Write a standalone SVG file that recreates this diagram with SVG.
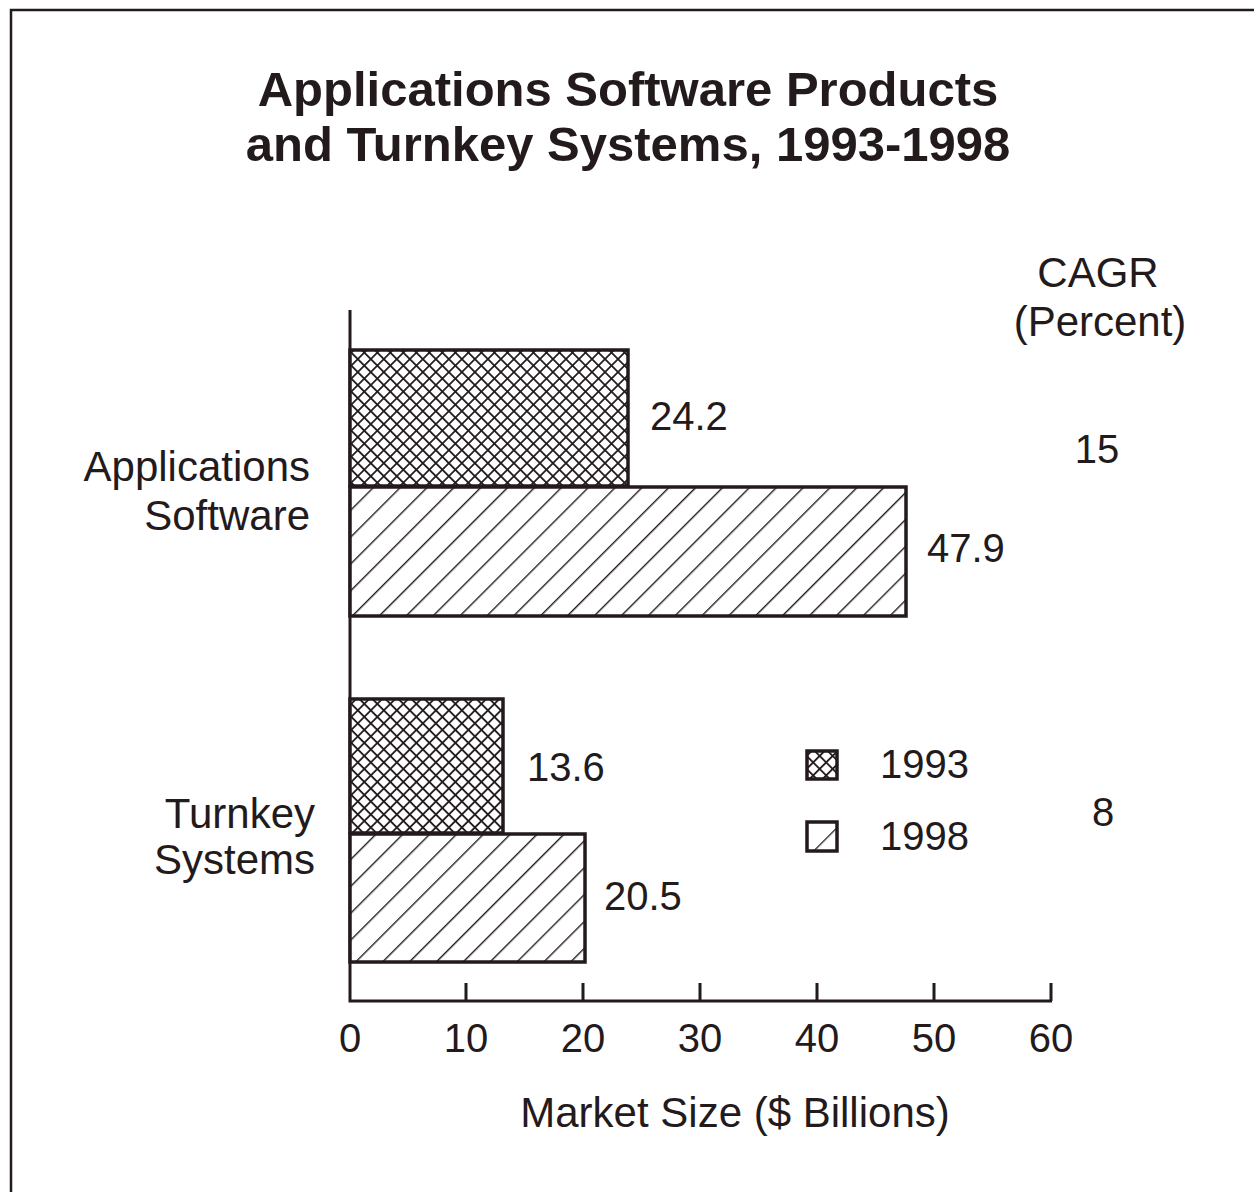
<svg xmlns="http://www.w3.org/2000/svg" width="1254" height="1192" viewBox="0 0 1254 1192">
<defs>
<pattern id="cross" patternUnits="userSpaceOnUse" width="9.2" height="9.2" patternTransform="rotate(45)">
<rect width="9.2" height="9.2" fill="#fff"/>
<line x1="0" y1="0" x2="9.2" y2="0" stroke="#231a1c" stroke-width="3.6"/>
<line x1="0" y1="0" x2="0" y2="9.2" stroke="#231a1c" stroke-width="3.6"/>
</pattern>
<pattern id="diag" patternUnits="userSpaceOnUse" width="19" height="19" patternTransform="rotate(45)">
<rect width="19" height="19" fill="#fff"/>
<line x1="0" y1="0" x2="0" y2="19" stroke="#231a1c" stroke-width="2.8"/>
</pattern>
<pattern id="diagS" patternUnits="userSpaceOnUse" width="26" height="26" patternTransform="translate(806 821) rotate(45)">
<rect width="26" height="26" fill="#fff"/>
<line x1="0" y1="0" x2="0" y2="26" stroke="#231a1c" stroke-width="2.6"/>
</pattern>
</defs>
<style>
text{font-family:"Liberation Sans",Arial,sans-serif;fill:#231a1c}
.t{font-size:49px;font-weight:bold;text-anchor:middle}
.l{font-size:40px}
.w{font-size:42px}
.r{text-anchor:end}
.m{text-anchor:middle}
.bar{stroke:#231a1c;stroke-width:3.5}
.ax{stroke:#231a1c;stroke-width:3;fill:none}
</style>
<rect width="1254" height="1192" fill="#fff"/>
<g id="frame"><path d="M11 1192 V10 H1254" fill="none" stroke="#231a1c" stroke-width="2.5"/></g>
<g id="title">
<text class="t" x="628" y="106">Applications Software Products</text>
<text class="t" x="628" y="161">and Turnkey Systems, 1993-1998</text>
</g>
<g id="axes">
<path class="ax" d="M350 310 V1001 H1052"/>
<path class="ax" d="M466 983 V1001 M583 983 V1001 M700 983 V1001 M817 983 V1001 M934 983 V1001 M1051 983 V1001"/>
<text class="l m" x="350" y="1052">0</text>
<text class="l m" x="466" y="1052">10</text>
<text class="l m" x="583" y="1052">20</text>
<text class="l m" x="700" y="1052">30</text>
<text class="l m" x="817" y="1052">40</text>
<text class="l m" x="934" y="1052">50</text>
<text class="l m" x="1051" y="1052">60</text>
<text class="w m" x="735" y="1127">Market Size ($ Billions)</text>
</g>
<g id="cat-apps">
<text class="w r" x="310" y="481">Applications</text>
<text class="w r" x="310" y="530">Software</text>
</g>
<g id="cat-turnkey">
<text class="w r" x="315" y="828">Turnkey</text>
<text class="w r" x="315" y="874">Systems</text>
</g>
<g id="bar-apps-1993">
<rect class="bar" x="350" y="350" width="278" height="136" fill="url(#cross)"/>
<text class="l" x="650" y="430">24.2</text>
</g>
<g id="bar-apps-1998">
<rect class="bar" x="350" y="487" width="556" height="129" fill="url(#diag)"/>
<text class="l" x="927" y="562">47.9</text>
</g>
<g id="bar-turnkey-1993">
<rect class="bar" x="350" y="699" width="153" height="134" fill="url(#cross)"/>
<text class="l" x="527" y="781">13.6</text>
</g>
<g id="bar-turnkey-1998">
<rect class="bar" x="350" y="834" width="235" height="128" fill="url(#diag)"/>
<text class="l" x="604" y="910">20.5</text>
</g>
<g id="cagr">
<text class="w m" x="1098" y="287">CAGR</text>
<text class="w m" x="1100" y="336">(Percent)</text>
<text class="l m" x="1097" y="463">15</text>
<text class="l m" x="1103" y="826">8</text>
</g>
<g id="legend">
<rect class="bar" x="807" y="751" width="30" height="28" fill="url(#cross)"/>
<text class="l" x="880" y="778">1993</text>
<rect class="bar" x="807" y="822" width="30" height="29" fill="url(#diagS)"/>
<text class="l" x="880" y="850">1998</text>
</g>
</svg>
